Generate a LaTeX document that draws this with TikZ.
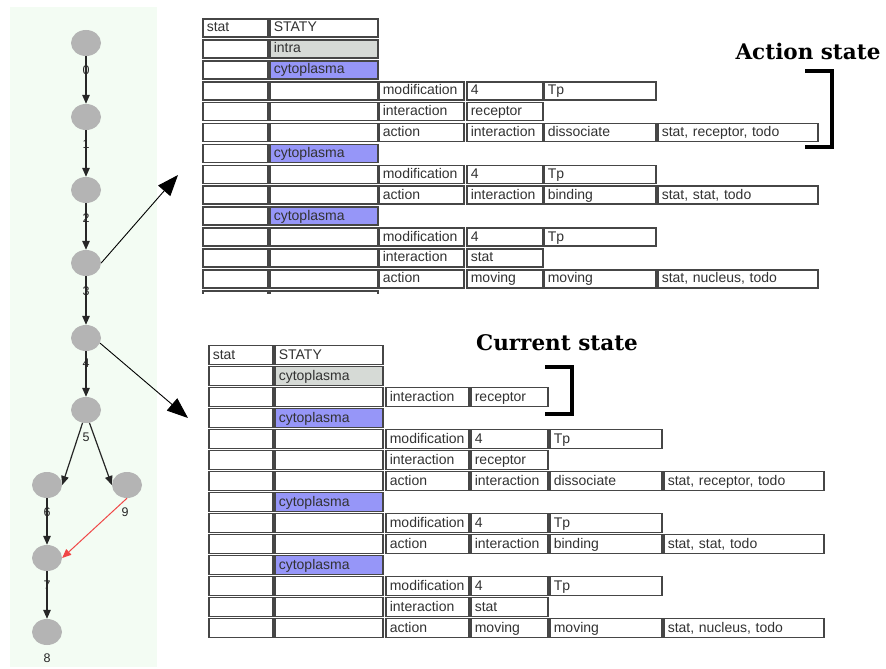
\documentclass[tikz,border=0pt]{standalone}
\usepackage{fontspec}
\setmainfont{Liberation Sans}
\newfontfamily\titlefont{DejaVu Serif}
\usetikzlibrary{shapes.geometric,arrows.meta}
\definecolor{panelbg}{RGB}{243,252,243}
\definecolor{nodegray}{RGB}{180,180,180}
\definecolor{cellline}{RGB}{70,70,70}
\definecolor{cytofill}{RGB}{150,150,248}
\definecolor{intrafill}{RGB}{214,218,214}
\definecolor{txt}{RGB}{50,50,50}
\definecolor{edgered}{RGB}{240,70,70}
\newcommand\cel[6]{\pgfmathsetmacro\celtw{#3-8}\node[cellbox,minimum width=#3pt,text width=\celtw pt,#5] (#1) at (#2,#4) {#6};}
\begin{document}
\begin{tikzpicture}[x=1pt,y=-1pt,
 gnode/.style={ellipse,fill=nodegray,minimum width=30pt,minimum height=26pt,inner sep=0pt},
 glabel/.style={font=\fontsize{12.5}{14}\selectfont,text=black!85,inner sep=1pt},
 gedge/.style={draw=black!85,line width=1.2pt,-{Triangle[length=9pt,width=7.5pt]}},
 redge/.style={draw=edgered,line width=1pt,-{Triangle[length=9pt,width=7.5pt]}},
 bigarrow/.style={draw=black,line width=0.9pt,-{Triangle[length=21pt,width=16pt]}},
 cellbox/.style={draw=cellline,line width=1.6pt,fill=white,anchor=west,inner xsep=4pt,inner ysep=0pt,minimum height=18pt,text height=11pt,text depth=3pt,align=left,font=\fontsize{14}{16}\selectfont,text=txt},
 bt/.style={minimum height=19pt},
 cyto/.style={fill=cytofill},
 intra/.style={fill=intrafill},
 bracket/.style={line width=4.5pt,line join=miter},
 title/.style={font=\titlefont\bfseries\fontsize{21.5}{24}\selectfont,inner sep=0pt}
]
\useasboundingbox (0,0) rectangle (886,669);
\fill[white] (0,0) rectangle (886,669);
% left panel
\fill[panelbg] (10,7) rectangle (157,667);
% graph nodes
\node[gnode] (n0) at (86,43) {};
\node[gnode] (n1) at (86,117) {};
\node[gnode] (n2) at (86,190) {};
\node[gnode] (n3) at (86,263) {};
\node[gnode] (n4) at (86,338) {};
\node[gnode] (n5) at (86,410) {};
\node[gnode] (n6) at (47,485) {};
\node[gnode] (n9) at (127,485) {};
\node[gnode] (n7) at (47,558) {};
\node[gnode] (n8) at (47,632) {};
% graph edges
\draw[gedge] (n0) -- (n1);
\draw[gedge] (n1) -- (n2);
\draw[gedge] (n2) -- (n3);
\draw[gedge] (n3) -- (n4);
\draw[gedge] (n4) -- (n5);
\draw[gedge] (n5.-105) -- (n6.east);
\draw[gedge] (n5.-75) -- (n9.west);
\draw[gedge] (n6) -- (n7);
\draw[gedge] (n7) -- (n8);
\draw[redge] (n9.south) -- (n7.east);
% labels
\node[glabel] (l0) at (86,70) {0};
\node[glabel] (l1) at (86,144) {1};
\node[glabel] (l2) at (86,218) {2};
\node[glabel] (l3) at (86,291) {3};
\node[glabel] (l4) at (86,363) {4};
\node[glabel] (l5) at (86,437) {5};
\node[glabel] (l6) at (47,512) {6};
\node[glabel] (l9) at (125,512) {9};
\node[glabel] (l7) at (47,585) {7};
\node[glabel] (l8) at (47,658) {8};
% big arrows
\coordinate (t1) at (178,175);
\coordinate (t2) at (188,418);
\draw[bigarrow] (n3.east) -- (t1);
\draw[bigarrow] (n4.-20) -- (t2);
% ---------- top table ----------
\cel{a0A}{202}{65}{28}{}{stat}
\cel{a0B}{269}{108}{28}{}{STATY}
\cel{a1A}{202}{65}{48.9}{}{}
\cel{a1B}{269}{108}{48.9}{intra}{intra}
\cel{a2A}{202}{65}{69.8}{}{}
\cel{a2B}{269}{108}{69.8}{cyto}{cytoplasma}
\cel{a3A}{202}{65}{90.7}{}{}
\cel{a3B}{269}{108}{90.7}{}{}
\cel{a3C}{378}{85}{90.7}{}{modification}
\cel{a3D}{466}{76}{90.7}{}{4}
\cel{a3E}{543}{112}{90.7}{}{Tp}
\cel{a4A}{202}{65}{111.6}{}{}
\cel{a4B}{269}{108}{111.6}{}{}
\cel{a4C}{378}{85}{111.6}{}{interaction}
\cel{a4D}{466}{76}{111.6}{}{receptor}
\cel{a5A}{202}{65}{132.5}{}{}
\cel{a5B}{269}{108}{132.5}{}{}
\cel{a5C}{378}{85}{132.5}{}{action}
\cel{a5D}{466}{76}{132.5}{}{interaction}
\cel{a5E}{543}{112}{132.5}{}{dissociate}
\cel{a5F}{657}{160}{132.5}{}{stat, receptor, todo}
\cel{a6A}{202}{65}{153.4}{}{}
\cel{a6B}{269}{108}{153.4}{cyto}{cytoplasma}
\cel{a7A}{202}{65}{174.3}{}{}
\cel{a7B}{269}{108}{174.3}{}{}
\cel{a7C}{378}{85}{174.3}{}{modification}
\cel{a7D}{466}{76}{174.3}{}{4}
\cel{a7E}{543}{112}{174.3}{}{Tp}
\cel{a8A}{202}{65}{195.2}{}{}
\cel{a8B}{269}{108}{195.2}{}{}
\cel{a8C}{378}{85}{195.2}{}{action}
\cel{a8D}{466}{76}{195.2}{}{interaction}
\cel{a8E}{543}{112}{195.2}{}{binding}
\cel{a8F}{657}{160}{195.2}{}{stat, stat, todo}
\cel{a9A}{202}{65}{216.1}{}{}
\cel{a9B}{269}{108}{216.1}{cyto}{cytoplasma}
\cel{a10A}{202}{65}{237}{}{}
\cel{a10B}{269}{108}{237}{}{}
\cel{a10C}{378}{85}{237}{}{modification}
\cel{a10D}{466}{76}{237}{}{4}
\cel{a10E}{543}{112}{237}{}{Tp}
\cel{a11A}{202}{65}{257.9}{}{}
\cel{a11B}{269}{108}{257.9}{}{}
\cel{a11C}{378}{85}{257.9}{}{interaction}
\cel{a11D}{466}{76}{257.9}{}{stat}
\cel{a12A}{202}{65}{278.8}{}{}
\cel{a12B}{269}{108}{278.8}{}{}
\cel{a12C}{378}{85}{278.8}{}{action}
\cel{a12D}{466}{76}{278.8}{}{moving}
\cel{a12E}{543}{112}{278.8}{}{moving}
\cel{a12F}{657}{160}{278.8}{}{stat, nucleus, todo}
\begin{scope}
\clip (195,289) rectangle (400,293.5);
\cel{a13A}{202}{65}{299.7}{}{}
\cel{a13B}{269}{108}{299.7}{}{}
\end{scope}
% Action state bracket
\node[title] (acttitle) at (808,51) {Action state};
\draw[bracket] (805,71) -- (832,71) -- (832,147) -- (805,147);
% ---------- bottom table ----------
\cel{b0A}{208}{64}{355}{bt}{stat}
\cel{b0B}{274}{108}{355}{bt}{STATY}
\cel{b1A}{208}{64}{376}{bt}{}
\cel{b1B}{274}{108}{376}{bt,intra}{cytoplasma}
\cel{b2A}{208}{64}{397}{bt}{}
\cel{b2B}{274}{108}{397}{bt}{}
\cel{b2C}{385}{83}{397}{bt}{interaction}
\cel{b2D}{470}{77}{397}{bt}{receptor}
\cel{b3A}{208}{64}{418}{bt}{}
\cel{b3B}{274}{108}{418}{bt,cyto}{cytoplasma}
\cel{b4A}{208}{64}{439}{bt}{}
\cel{b4B}{274}{108}{439}{bt}{}
\cel{b4C}{385}{83}{439}{bt}{modification}
\cel{b4D}{470}{77}{439}{bt}{4}
\cel{b4E}{549}{112}{439}{bt}{Tp}
\cel{b5A}{208}{64}{460}{bt}{}
\cel{b5B}{274}{108}{460}{bt}{}
\cel{b5C}{385}{83}{460}{bt}{interaction}
\cel{b5D}{470}{77}{460}{bt}{receptor}
\cel{b6A}{208}{64}{481}{bt}{}
\cel{b6B}{274}{108}{481}{bt}{}
\cel{b6C}{385}{83}{481}{bt}{action}
\cel{b6D}{470}{77}{481}{bt}{interaction}
\cel{b6E}{549}{112}{481}{bt}{dissociate}
\cel{b6F}{663}{160}{481}{bt}{stat, receptor, todo}
\cel{b7A}{208}{64}{502}{bt}{}
\cel{b7B}{274}{108}{502}{bt,cyto}{cytoplasma}
\cel{b8A}{208}{64}{523}{bt}{}
\cel{b8B}{274}{108}{523}{bt}{}
\cel{b8C}{385}{83}{523}{bt}{modification}
\cel{b8D}{470}{77}{523}{bt}{4}
\cel{b8E}{549}{112}{523}{bt}{Tp}
\cel{b9A}{208}{64}{544}{bt}{}
\cel{b9B}{274}{108}{544}{bt}{}
\cel{b9C}{385}{83}{544}{bt}{action}
\cel{b9D}{470}{77}{544}{bt}{interaction}
\cel{b9E}{549}{112}{544}{bt}{binding}
\cel{b9F}{663}{160}{544}{bt}{stat, stat, todo}
\cel{b10A}{208}{64}{565}{bt}{}
\cel{b10B}{274}{108}{565}{bt,cyto}{cytoplasma}
\cel{b11A}{208}{64}{586}{bt}{}
\cel{b11B}{274}{108}{586}{bt}{}
\cel{b11C}{385}{83}{586}{bt}{modification}
\cel{b11D}{470}{77}{586}{bt}{4}
\cel{b11E}{549}{112}{586}{bt}{Tp}
\cel{b12A}{208}{64}{607}{bt}{}
\cel{b12B}{274}{108}{607}{bt}{}
\cel{b12C}{385}{83}{607}{bt}{interaction}
\cel{b12D}{470}{77}{607}{bt}{stat}
\cel{b13A}{208}{64}{628}{bt}{}
\cel{b13B}{274}{108}{628}{bt}{}
\cel{b13C}{385}{83}{628}{bt}{action}
\cel{b13D}{470}{77}{628}{bt}{moving}
\cel{b13E}{549}{112}{628}{bt}{moving}
\cel{b13F}{663}{160}{628}{bt}{stat, nucleus, todo}
% Current state bracket
\node[title] (curtitle) at (557,343) {Current state};
\draw[bracket] (545,367) -- (572,367) -- (572,414) -- (545,414);
\end{tikzpicture}
\end{document}
